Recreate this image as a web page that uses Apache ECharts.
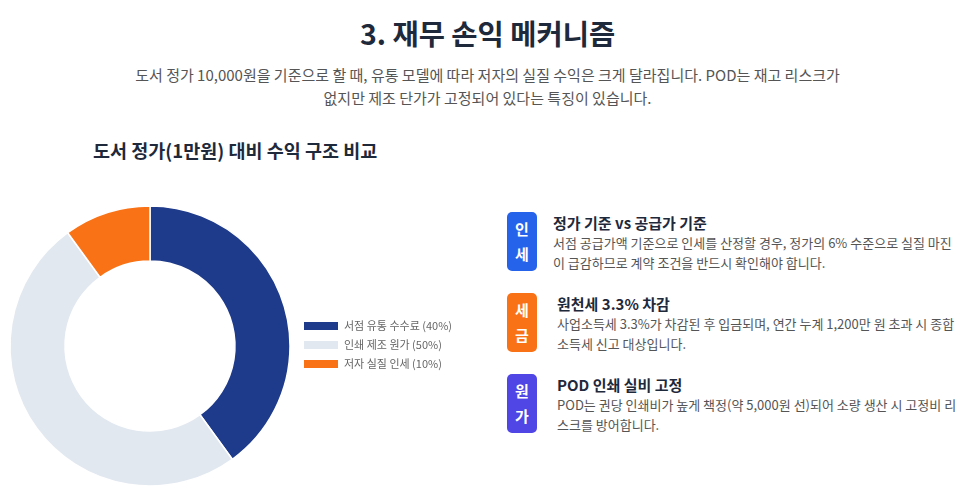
<!DOCTYPE html>
<html><head><meta charset="utf-8">
<script src="https://cdn.jsdelivr.net/npm/echarts@6/dist/echarts.min.js"></script>
<style>
html,body{margin:0;padding:0;background:#fff;width:975px;height:501px;overflow:hidden;font-family:"Noto Sans CJK KR","Noto Sans",sans-serif;}
#title{position:absolute;left:0;top:12px;width:975px;text-align:center;font-size:28.5px;font-weight:700;color:#1e293b;}
#sub{position:absolute;left:0;top:63px;width:975px;text-align:center;font-size:15px;line-height:23px;color:#555;}
#ctitle{position:absolute;left:93px;top:137px;font-size:18.5px;font-weight:700;color:#1e293b;}
#chart{position:absolute;left:0;top:190px;width:500px;height:311px;}
.card{position:absolute;left:507px;width:460px;}
.badge{position:absolute;left:0;top:0;width:30px;height:59px;border-radius:5px;color:#fff;font-weight:700;font-size:15px;line-height:25px;text-align:center;padding-top:4px;box-sizing:border-box;}
.ct{position:absolute;top:0px;font-size:15px;font-weight:700;color:#1e293b;white-space:nowrap;}
.cd{position:absolute;top:21px;font-size:13px;line-height:19.5px;color:#555;width:405px;word-break:break-all;}
</style></head><body>
<div id="title"></div>
<div id="sub"></div>
<div id="ctitle"></div>
<div id="chart"></div>
<div id="cards"></div>
<script>
const pageTitle = "3. 재무 손익 메커니즘";
const subLines = ["도서 정가 10,000원을 기준으로 할 때, 유통 모델에 따라 저자의 실질 수익은 크게 달라집니다. POD는 재고 리스크가", "없지만 제조 단가가 고정되어 있다는 특징이 있습니다."];
const chartTitle = "도서 정가(1만원) 대비 수익 구조 비교";
const categories = ["서점 유통 수수료 (40%)", "인쇄 제조 원가 (50%)", "저자 실질 인세 (10%)"];
const values = [40, 50, 10];
const colors = ["#1e3a8a", "#e2e8f0", "#f97316"];
const cardBadges = ["인<br>세", "세<br>금", "원<br>가"];
const cardTitles = ["정가 기준 vs 공급가 기준", "원천세 3.3% 차감", "POD 인쇄 실비 고정"];
const cardTexts = [
  "서점 공급가액 기준으로 인세를 산정할 경우, 정가의 6% 수준으로 실질 마진이 급감하므로 계약 조건을 반드시 확인해야 합니다.",
  "사업소득세 3.3%가 차감된 후 입금되며, 연간 누계 1,200만 원 초과 시 종합소득세 신고 대상입니다.",
  "POD는 권당 인쇄비가 높게 책정(약 5,000원 선)되어 소량 생산 시 고정비 리스크를 방어합니다."
];
const badgeColors = ["#2563eb", "#f97316", "#4f46e5"];

document.getElementById('title').textContent = pageTitle;
document.getElementById('sub').innerHTML = subLines.join('<br>');
document.getElementById('ctitle').textContent = chartTitle;
const tops = [212, 293, 374];
const textLeft = [46, 50, 50];
let html = '';
for (let i = 0; i < 3; i++) {
  html += '<div class="card" style="top:' + tops[i] + 'px">' +
    '<div class="badge" style="background:' + badgeColors[i] + '">' + cardBadges[i] + '</div>' +
    '<div class="ct" style="left:' + textLeft[i] + 'px">' + cardTitles[i] + '</div>' +
    '<div class="cd" style="left:' + textLeft[i] + 'px">' + cardTexts[i] + '</div></div>';
}
document.getElementById('cards').innerHTML = html;

const chart = echarts.init(document.getElementById('chart'), null, {renderer: 'canvas'});
chart.setOption({
  animation: false,
  legend: {
    orient: 'vertical', left: 302, top: 130, padding: 0, itemWidth: 36, itemHeight: 10, itemGap: 7,
    icon: 'rect',
    textStyle: {fontSize: 11, color: '#666', fontFamily: '"Noto Sans CJK KR", sans-serif'},
    data: categories
  },
  series: [{
    type: 'pie', center: [150, 156], radius: [85, 140], startAngle: 90, clockwise: true,
    label: {show: false}, labelLine: {show: false},
    itemStyle: {borderColor: '#fff', borderWidth: 1.5},
    data: categories.map((c, i) => ({name: c, value: values[i], itemStyle: {color: colors[i]}}))
  }]
});
</script>
</body></html>
